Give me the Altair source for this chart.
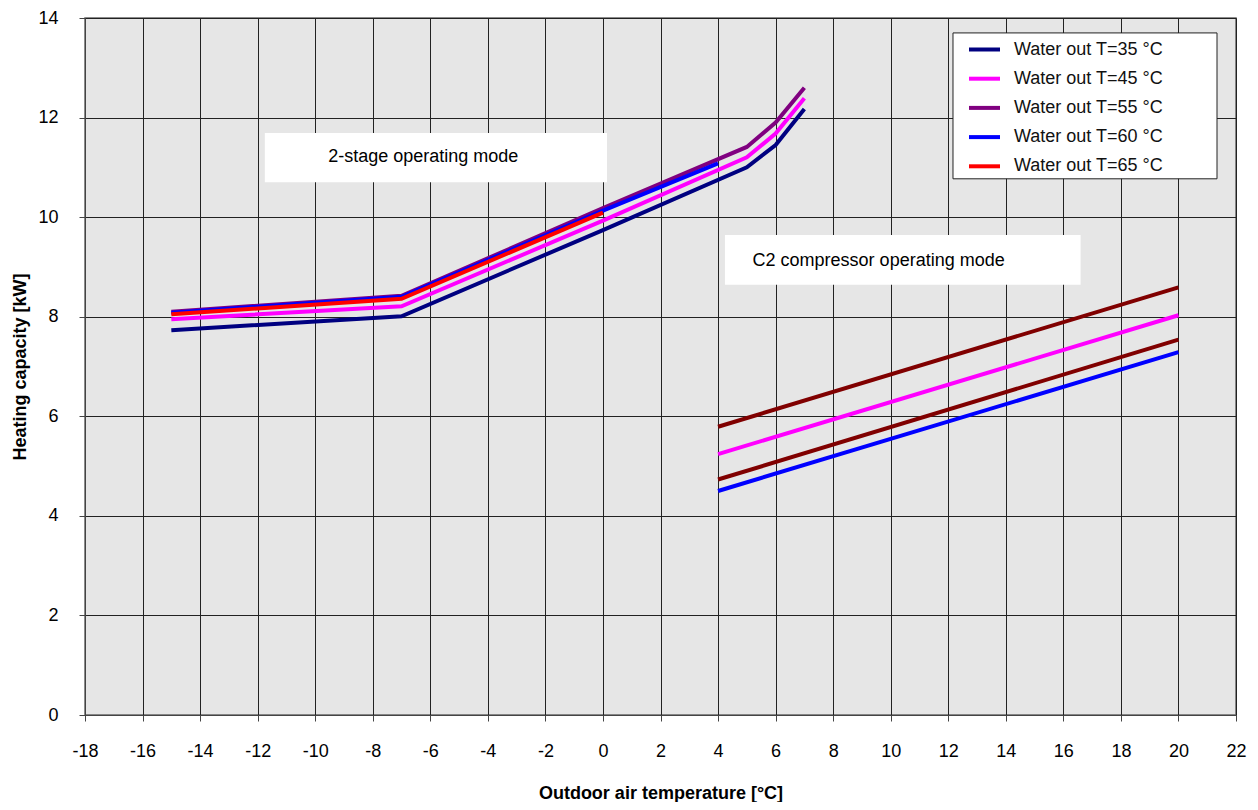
import altair as alt
import pandas as pd

# ---- data ----
series_names = ["Water out T=35 °C", "Water out T=45 °C", "Water out T=55 °C",
                "Water out T=60 °C", "Water out T=65 °C"]
series_colors = ["#000080", "#ff00ff", "#800080", "#0000ff", "#ff0000"]

t35_x = [-15, -7, 0, 5, 6, 7]
t35_y = [7.73, 8.01, 9.74, 11.0, 11.45, 12.17]
t45_x = [-15, -7, 0, 5, 6, 7]
t45_y = [7.95, 8.21, 9.93, 11.2, 11.68, 12.39]
t55_x = [-15, -7, 0, 5, 6, 7]
t55_y = [8.1, 8.42, 10.18, 11.41, 11.9, 12.6]
t60_x = [-15, -7, 0, 4]
t60_y = [8.08, 8.40, 10.13, 11.08]
t65_x = [-15, -7, 0]
t65_y = [8.05, 8.36, 10.09]

# C2 compressor operating mode lines (not in legend)
c2_names = ["c2_a", "c2_b", "c2_c", "c2_d"]
c2_colors = ["#800000", "#ff00ff", "#800000", "#0000ff"]
c2_x = [4, 20]
c2_a_y = [5.79, 8.59]
c2_b_y = [5.24, 8.03]
c2_c_y = [4.73, 7.54]
c2_d_y = [4.5, 7.29]

# annotation boxes (data coordinates)
ann_text = ["2-stage operating mode", "C2 compressor operating mode"]
ann_x1 = [-11.75, 4.24]
ann_x2 = [0.14, 16.6]
ann_y1 = [10.7, 8.64]
ann_y2 = [11.69, 9.64]
ann_tx = [-9.55, 5.2]
ann_ty = [11.2, 9.12]

# legend frame (data coordinates)
leg_x1 = [12.165]
leg_x2 = [21.34]
leg_y1 = [10.77]
leg_y2 = [13.70]

x_ticks = list(range(-18, 23, 2))
y_ticks = list(range(0, 15, 2))

# ---- tables ----
rows = []
for name, xs, ys in zip(series_names,
                        [t35_x, t45_x, t55_x, t60_x, t65_x],
                        [t35_y, t45_y, t55_y, t60_y, t65_y]):
    for i, (a, b) in enumerate(zip(xs, ys)):
        rows.append({"series": name, "t": a, "cap": b, "order": i})
main_df = pd.DataFrame(rows)

rows2 = []
for name, ys in zip(c2_names, [c2_a_y, c2_b_y, c2_c_y, c2_d_y]):
    for i, (a, b) in enumerate(zip(c2_x, ys)):
        rows2.append({"series": name, "t": a, "cap": b, "order": i})
c2_df = pd.DataFrame(rows2)

ann_df = pd.DataFrame({"text": ann_text, "x1": ann_x1, "x2": ann_x2,
                       "y1": ann_y1, "y2": ann_y2, "tx": ann_tx, "ty": ann_ty})
leg_df = pd.DataFrame({"x1": leg_x1, "x2": leg_x2, "y1": leg_y1, "y2": leg_y2})

FONT = "Liberation Sans, Arial, sans-serif"

xscale = alt.Scale(domain=[-18, 22], nice=False, zero=False)
yscale = alt.Scale(domain=[0, 14], nice=False)

xaxis = alt.Axis(values=x_ticks, title="Outdoor air temperature [°C]",
                 labelExpr="datum.value + ''", labelFlush=False,
                 labelFont=FONT, labelFontSize=18, labelColor="black",
                 labelPadding=21, tickSize=6, tickColor="#444",
                 domainColor="#444", gridColor="#222", gridWidth=1,
                 titleFont=FONT, titleFontSize=18, titleFontWeight="bold",
                 titleColor="black", titleY=78, titleBaseline="middle")
yaxis = alt.Axis(values=y_ticks, title="Heating capacity [kW]",
                 labelFlush=False,
                 labelFont=FONT, labelFontSize=18, labelColor="black",
                 labelPadding=21, tickSize=6, tickColor="#444",
                 domainColor="#444", gridColor="#222", gridWidth=1,
                 titleFont=FONT, titleFontSize=18, titleFontWeight="bold",
                 titleColor="black", titleX=-65, titleBaseline="middle")

rects = alt.Chart(ann_df).mark_rect(color="white").encode(
    x=alt.X("x1:Q", scale=xscale, axis=xaxis),
    x2="x2:Q",
    y=alt.Y("y1:Q", scale=yscale, axis=yaxis),
    y2="y2:Q",
)
texts = alt.Chart(ann_df).mark_text(align="left", baseline="middle",
                                    font=FONT, fontSize=18, color="black").encode(
    x=alt.X("tx:Q", scale=xscale),
    y=alt.Y("ty:Q", scale=yscale),
    text="text:N",
)

c2_lines = alt.Chart(c2_df).mark_line(strokeWidth=4).encode(
    x=alt.X("t:Q", scale=xscale),
    y=alt.Y("cap:Q", scale=yscale),
    color=alt.Color("series:N", scale=alt.Scale(domain=c2_names, range=c2_colors),
                    legend=None),
    order="order:Q",
)

main_lines = alt.Chart(main_df).mark_line(strokeWidth=4).encode(
    x=alt.X("t:Q", scale=xscale),
    y=alt.Y("cap:Q", scale=yscale),
    color=alt.Color("series:N",
                    scale=alt.Scale(domain=series_names, range=series_colors),
                    sort=series_names,
                    legend=alt.Legend(title=None, orient="none", legendX=868,
                                      legendY=14, padding=0,
                                      symbolType="stroke", symbolSize=961,
                                      symbolStrokeWidth=4, symbolOffset=14,
                                      labelFont=FONT, labelFontSize=18,
                                      labelColor="#111", labelOffset=12,
                                      rowPadding=2.2, labelLimit=400)),
    order="order:Q",
)

legend_box = alt.Chart(leg_df).mark_rect(fill="white", stroke="#222",
                                         strokeWidth=1).encode(
    x=alt.X("x1:Q", scale=xscale),
    x2="x2:Q",
    y=alt.Y("y1:Q", scale=yscale),
    y2="y2:Q",
)

chart = alt.layer(rects, c2_lines, main_lines, legend_box, texts).resolve_scale(
    color="independent"
).properties(
    width=1151, height=697,
    autosize=alt.AutoSizeParams(type="none"),
    padding={"left": 77, "top": 10, "right": 14, "bottom": 87},
    background="white",
).configure_view(
    fill="#e6e6e6", stroke="#666", strokeWidth=1.5
)

chart.save("out.html", embed_options={"renderer": "svg", "actions": False})
